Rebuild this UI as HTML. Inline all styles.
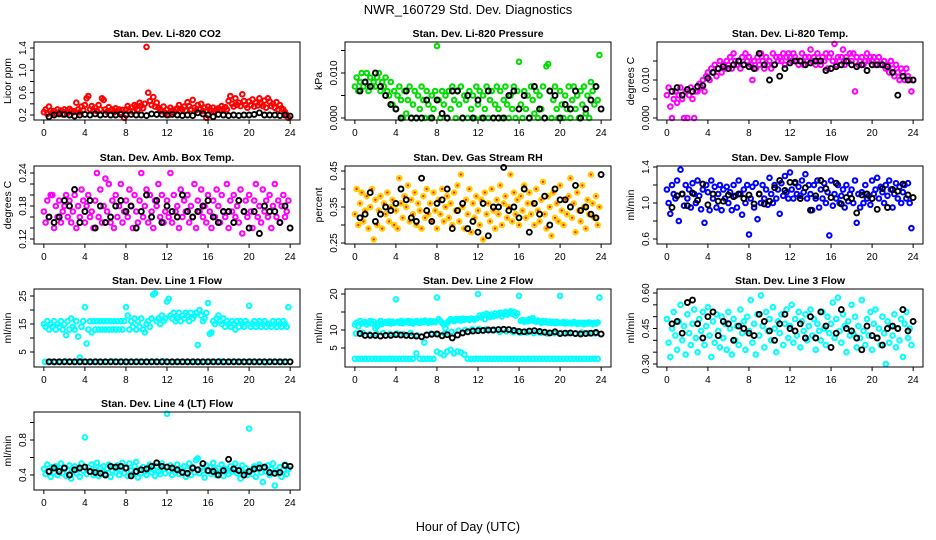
<!DOCTYPE html>
<html><head><meta charset="utf-8"><style>
html,body{margin:0;padding:0;background:#fff;}
svg{display:block;font-family:"Liberation Sans",Arial,sans-serif;}
</style></head><body>
<svg id="chart" width="936" height="540" viewBox="0 0 936 540" xmlns="http://www.w3.org/2000/svg">
<rect width="936" height="540" fill="#fff"/>
<text x="468" y="14" font-size="13" text-anchor="middle">NWR_160729  Std. Dev. Diagnostics</text>
<text x="468" y="531" font-size="12.5" text-anchor="middle">Hour of Day (UTC)</text>
</svg>
<script>
// ---- data (colored series sampled every 10 min from 0 h; black series every 30 min from 0.5 h) ----
const xTicks = [0,4,8,12,16,20,24];
const co2Red = [0.25,0.3,0.22,0.35,0.28,0.24, 0.27,0.22,0.3,0.25,0.28,0.21, 0.3,0.26,0.24,0.31,0.28,0.25, 0.27,0.42,0.3,0.25,0.35,0.29, 0.38,0.5,0.54,0.3,0.36,0.28, 0.33,0.27,0.38,0.3,0.5,0.47, 0.3,0.26,0.34,0.28,0.3,0.25, 0.32,0.27,0.3,0.24,0.29,0.15, 0.3,0.36,0.28,0.33,0.26,0.38, 0.35,0.3,0.42,0.37,0.32,0.4, 1.42,0.6,0.45,0.38,0.52,0.35, 0.42,0.33,0.3,0.27,0.35,0.24, 0.3,0.2,0.33,0.28,0.24,0.3, 0.32,0.38,0.27,0.3,0.35,0.28, 0.43,0.36,0.3,0.47,0.33,0.29, 0.38,0.3,0.4,0.27,0.33,0.15, 0.35,0.3,0.28,0.33,0.27,0.3, 0.32,0.29,0.36,0.31,0.34,0.3, 0.45,0.54,0.4,0.35,0.5,0.38, 0.42,0.36,0.57,0.45,0.38,0.33, 0.44,0.38,0.48,0.35,0.42,0.37, 0.5,0.4,0.36,0.46,0.33,0.5, 0.44,0.36,0.4,0.33,0.43,0.3, 0.38,0.32,0.3,0.25,0.2,0.15];
const co2Black = [0.17,0.2,0.22,0.21,0.2,0.18,0.2,0.21,0.2,0.22,0.2,0.21,0.2,0.2,0.21,0.2,0.21,0.2,0.2,0.19,0.22,0.21,0.21,0.2,0.21,0.2,0.19,0.2,0.19,0.24,0.22,0.2,0.17,0.21,0.2,0.19,0.2,0.19,0.2,0.2,0.21,0.24,0.2,0.2,0.2,0.19,0.2,0.18];
const pressureGreenPa = [7,9,6,8,10,7, 8,10,6,9,7,8, 7,9,10,6,8,7, 9,6,5,8,3,6, 2,5,7,4,0,6, 1,4,7,0,3,6, 0,5,2,7,4,0, 6,3,0,5,2,6, 16,4,0,6,3,5, 0,6,2,7,4,0, 6,3,7,0,5,4, 0,6,2,5,0,7, 3,6,0,5,2,7, 0,4,6,0,3,7, 2,6,0,4,7,3, 0,5,2,7,0,6, 12.5,3,0,6,2,5, 0,7,4,1,6,0, 5,2,7,0,11.5,12, 6,0,4,7,2,0, 6,3,0,5,2,7, 0,4,7,2,5,0, 6,3,7,1,5,0, 8,6,3,7,4,14];
const pressureBlackPa = [6,8,7,10,7,5,3,2,0,6,0,0,0,4,0,4,1,0,6,6,0,5,0,4,0,6,0,0,0,5,6,2,5,0,7,2,0,6,5,0,3,2,6,0,2,4,7,2];
const liTempMagentaMilli = [6,8,3,0,5,7, 4,6,8,5,0,7, 0,6,8,5,0,7, 7,9,8,10,7,11, 12,10,13,12,14,11, 13,15,12,14,13,15, 14,16,13,17,15,14, 15,13,16,14,17,15, 16,14,10,15,13,16, 14,17,15,13,16,14, 15,13,17,14,16,15, 16,15,17,14,16,17, 16,15,17,16,15,14, 15,17,14,16,15,16, 18,15,16,14,17,15, 14,16,15,17,13,16, 17,15,19.5,14,16,15, 16,18,14,16,15,17, 15,17,7,16,14,15, 16,14,15,17,15,16, 15,16,14,15,16,14, 14,15,13,14,12,15, 13,11,14,12,10,13, 12,10,13,11,10,7];
const liTempBlackMilli = [7,8,6,7.5,7,8.3,8.5,10.5,12,13,13.5,13,14,15,14,13.5,13,17,14,10,14,11,13,14.5,15,15,14,14.5,15,15,12.5,13,13.5,14,15,14,13.5,14,12.5,14,14,14,13.5,12,6,11,10,10];
const ambMagenta = [.17,.15,.19,.16,.2,.2,.14,.18,.16,.19,.15,.17,.18,.2,.16,.19,.15,.17,.2,.14,.18,.16,.21,.19, .15,.18,.2,.16,.17,.14,.19,.24,.16,.21,.15,.18,.23,.17,.22,.15,.19,.14,.2,.16,.18,.22,.15,.17, .19,.16,.21,.18,.14,.2,.17,.15,.19,.24,.16,.18,.21,.15,.2,.17,.14,.19,.18,.22,.16,.2,.15,.17, .19,.16,.24,.15,.2,.17,.18,.14,.21,.16,.19,.17,.2,.15,.18,.16,.22,.14,.19,.17,.21,.16,.18,.15, .2,.17,.14,.19,.16,.21,.18,.15,.2,.17,.16,.22,.14,.19,.17,.2,.16,.18,.15,.21,.13,.17,.19,.16, .2,.17,.14,.19,.22,.16,.18,.15,.21,.17,.19,.16,.2,.14,.18,.22,.16,.19,.15,.18,.2,.16,.17,.19];
const ambBlack = [.16,.15,.16,.19,.18,.21,.15,.17,.19,.14,.18,.15,.16,.18,.19,.17,.18,.14,.17,.2,.16,.19,.15,.18,.17,.16,.2,.17,.16,.17,.18,.19,.16,.15,.17,.17,.15,.19,.17,.14,.17,.13,.18,.17,.17,.15,.18,.14];
const rhOrange = [.33,.40,.30,.36,.39,.31, .34,.38,.29,.35,.40,.26, .37,.30,.34,.38,.29,.36, .33,.39,.31,.35,.37,.30, .34,.29,.43,.36,.32,.38, .35,.41,.31,.37,.33,.39, .30,.36,.34,.29,.38,.32, .40,.33,.36,.31,.39,.34, .29,.37,.33,.40,.31,.35, .38,.32,.36,.30,.39,.34, .41,.31,.44,.35,.29,.37, .33,.40,.28,.36,.32,.38, .34,.30,.37,.26,.39,.33, .36,.31,.40,.34,.29,.37, .33,.41,.30,.36,.38,.32, .35,.44,.31,.39,.33,.37, .30,.38,.34,.41,.32,.36, .39,.33,.36,.30,.40,.34, .31,.37,.42,.33,.29,.38, .35,.27,.39,.32,.36,.31, .41,.34,.30,.37,.33,.38, .43,.32,.36,.28,.39,.34, .31,.41,.35,.29,.37,.33, .44,.36,.32,.38,.30,.35];
const rhBlack = [.32,.33,.39,.31,.33,.35,.34,.36,.40,.37,.32,.31,.43,.34,.31,.36,.37,.40,.29,.34,.36,.29,.31,.28,.36,.27,.35,.35,.46,.34,.35,.32,.40,.28,.36,.33,.38,.30,.40,.37,.37,.35,.41,.34,.35,.33,.32,.44];
const sampleBlue = [1.15,1.0,0.88,1.2,1.1,1.05, 1.25,0.8,1.37,1.1,0.97,1.2, 1.05,1.15,0.95,1.22,1.1,1.0, 1.25,1.08,0.93,1.15,0.78,1.2, 1.12,0.92,1.25,1.05,1.18,0.95, 1.1,1.2,0.92,1.15,1.05,1.18, 1.0,1.12,0.92,1.2,1.08,0.95, 1.25,1.1,0.87,1.15,1.0,1.2, 0.65,1.05,1.18,0.95,1.22,0.82, 1.1,1.0,1.2,1.05,1.15,0.98, 1.28,1.1,1.0,1.2,1.05,1.15, 0.88,1.22,1.08,1.3,1.12,1.05, 1.34,1.15,1.05,1.22,1.1,1.18, 1.08,1.25,1.12,1.32,1.05,1.2, 1.1,0.92,1.2,1.05,1.25,0.95, 1.15,1.05,1.22,1.0,1.12,0.64, 1.25,0.97,1.1,1.05,1.2,1.0, 1.08,1.15,0.95,1.2,1.02,1.1, 1.15,1.0,1.25,0.78,1.1,0.95, 1.12,1.0,1.2,1.05,1.08,0.98, 1.25,1.1,1.15,1.28,1.05,1.18, 1.12,1.0,1.2,1.08,1.25,1.15, 0.95,1.1,1.22,1.05,1.18,1.0, 1.12,1.2,1.05,1.22,1.0,0.72];
const sampleBlack = [0.95,1.08,1.1,0.97,1.11,1.03,1.21,0.98,1.1,1.02,1.02,1.09,1.07,1.1,1.05,1.09,0.99,1.1,0.99,1.02,1.17,1.25,1.14,1.23,1.23,1.05,1.17,0.92,1.08,1.25,1.16,1.06,1.22,0.99,1.06,1.05,0.89,1.09,1.1,1.05,0.93,1.16,0.95,1.15,1.13,1.21,1.09,1.06];
const line1Cyan = [15,14,16,13,15,14, 16,13,15,14,16,13, 15,11,16,13,17,14, 13,16,10.5,3,14,16, 21,8,13,16,12,16, 13,16,13,16,13,16, 13,16,13,16,13,16, 13,16,13,16,13,16, 21,18,13,16,14,17, 13,16,14,17,13,12, 15,16,14,17,25.5,26, 16,17,15,18,16,17, 23,24,18,17,19,16, 17,19,16,18,17,19, 18,16,19,17,18,19, 7.5,20,18,16,17,19, 22.5,11.5,12,16,15,17, 18,16,15,17,14,16, 15,14,16,15,13,16, 14,16,15,14,16,15, 21.5,14,15,16,14,15, 16,14,15,16,14,15, 15,14,16,15,14,16, 15,14,16,15,14,21];
const line1CyanLow = [1.5,1.6,1.4,1.5,1.7,1.5,1.4,1.6,1.5,1.5,1.6,1.4,1.5,1.7,1.5,1.6,1.4,1.5,1.6,1.5,1.4,1.6,1.5,1.7,1.5,1.4,1.6,1.5,1.5,1.6,1.4,1.5,1.6,1.5,1.7,1.4,1.5,1.6,1.5,1.4,1.6,1.5,1.5,1.3,1.6,1.5,1.4,1.5];
const line1Black = [1.5,1.5,1.5,1.5,1.5,1.5,1.5,1.5,1.5,1.5,1.5,1.5,1.5,1.5,1.5,1.5,1.5,1.5,1.5,1.5,1.5,1.5,1.5,1.5,1.5,1.5,1.5,1.5,1.5,1.5,1.5,1.5,1.5,1.5,1.5,1.5,1.5,1.5,1.5,1.5,1.5,1.5,1.5,1.5,1.5,1.5,1.5,1.5];
const line2CyanUpper = [11.5,12,11,12.5,11.8,12, 12.2,11.5,12,12.5,11.8,12.3, 10.5,11,12,12.5,11.6,12, 12.2,12,12.4,11.8,12.3,12, 18.5,12.2,12,12.5,11.9,12.3, 12.2,12.5,12,12.4,11.8,12.2, 12.5,12.1,12,12.4,12.2,12.6, 12.3,12,12.5,12.2,12.4,12.2, 19,13,12.5,12,11.5,10.5, 12,12.5,13,12.8,12.5,13, 12.8,13,12.6,13.2,12.9,13, 13,12.8,13.2,13,12.9,13.1, 20,14,13.5,14.2,13,14.5, 14,13.6,14.3,13.8,14.6,14, 14.2,14.8,13.8,14.5,15,14.3, 14.8,15.2,14.5,15,14,14.6, 19.5,12.5,12.8,12.3,12.6,12.4, 13,12.6,13.3,12.5,12.3,12.6, 12.3,12,12.5,12.2,12.4,12, 12.3,12,12.2,11.9,12.3,12, 19.5,12,12.2,11.8,12.1,11.9, 12,11.8,12.2,12,11.7,12, 11.8,12,11.6,12,11.8,12.1, 11.9,11.7,12,11.8,12.1,19];
const line2CyanLower = [2,2,2,2,2,2,2,2,2,2,2,2,2,2,2,2,2,2,3.5,2,2,2,2,2, 4,3.5,3,4,4.5,3.5,4,3.8,3.2, 2,2,2,2,2,2,2,2,2,2,2,2,2,2,2,2,2,2,2,2,2,2,2,2,2,2,2,2,2,2,2,2,2,2,2,2,2,2,2];
const line2CyanMid = [9,9.2,8.8,9,9.1,8.9,9,8.8,9.2,8.5,6.5,9,8.8,9,9.5,9.8,10,10.2,10.3,10.1,9.9,9.5,9.6,9.4,9.2,9.3,9.1,9.2,9,9.1,9.2,9.1,9,9.3,9.1,9];
const line2Black = [9,8.5,8.5,8.5,8.3,8.5,8.5,8.7,8.6,8.5,8.4,8.3,8.1,8.6,8.8,8.9,8.4,8.7,7.8,8.6,9.2,9.5,9.7,9.8,9.9,10,10,10.1,10.2,10.1,9.9,9.6,9.5,9.7,9.8,9.6,9.4,9.2,9.5,9,9.1,9.2,9.0,8.9,9.0,9.1,9.3,8.9];
const line3Cyan = [.49,.39,.33,.45,.52,.42, .36,.48,.55,.40,.46,.34, .51,.43,.38,.47,.53,.41, .35,.49,.44,.52,.38,.46, .54,.42,.33,.48,.39,.51, .44,.37,.50,.41,.47,.36, .52,.45,.34,.49,.40,.46, .38,.53,.43,.48,.36,.50, .44,.57,.39,.47,.34,.51, .42,.59,.46,.37,.52,.44, .49,.40,.54,.45,.35,.48, .43,.51,.38,.47,.53,.41, .46,.55,.39,.49,.42,.52, .37,.48,.44,.51,.40,.46, .53,.42,.49,.36,.47,.44, .40,.52,.45,.38,.50,.43, .47,.56,.41,.49,.58,.44, .39,.51,.46,.35,.48,.42, .55,.43,.50,.37,.46,.41, .57,.44,.38,.49,.42,.52, .36,.47,.53,.41,.45,.38, .50,.43,.30,.48,.39,.46, .42,.51,.37,.45,.40,.49, .33,.47,.52,.41,.45,.38];
const line3Black = [.47,.48,.43,.56,.57,.47,.41,.50,.52,.42,.48,.47,.40,.46,.45,.43,.42,.51,.48,.44,.40,.47,.51,.45,.44,.47,.41,.50,.41,.52,.46,.37,.43,.53,.45,.44,.41,.36,.46,.42,.41,.38,.45,.46,.45,.53,.44,.48];
const line4Cyan = [.47,.41,.52,.44,.38,.49, .43,.50,.40,.46,.53,.42, .48,.39,.45,.51,.36,.44, .50,.42,.47,.38,.53,.45, .83,.41,.49,.44,.52,.40, .46,.54,.39,.48,.43,.50, .41,.47,.52,.38,.45,.49, .43,.51,.40,.46,.54,.42, .48,.39,.53,.45,.41,.50, .55,.37,.46,.42,.49,.44, .40,.48,.52,.43,.46,.39, .50,.44,.41,.53,.47,.42, 1.10,.45,.51,.40,.48,.43, .52,.41,.47,.44,.50,.38, .46,.53,.40,.49,.43,.57, .59,.42,.48,.45,.37,.51, .44,.49,.41,.54,.46,.40, .48,.43,.52,.39,.47,.45, .41,.50,.44,.47,.53,.42, .46,.36,.51,.43,.48,.40, .93,.45,.41,.50,.38,.47, .52,.43,.32,.48,.44,.51, .40,.47,.53,.28,.45,.42, .49,.38,.46,.52,.41,.47];
const line4Black = [.44,.48,.44,.48,.40,.46,.48,.49,.44,.43,.42,.40,.50,.49,.50,.48,.39,.44,.46,.47,.50,.54,.50,.49,.48,.46,.43,.42,.48,.46,.53,.45,.44,.40,.45,.58,.47,.45,.40,.44,.47,.48,.49,.43,.42,.43,.51,.50];

// ---- layout ----
const NS = "http://www.w3.org/2000/svg";
const svg = document.getElementById('chart');
const colX = [34, 345, 657], rowY = [42, 166, 289, 412], BW = 266, BH = 78;
const XMIN = -0.96, XMAX = 24.96;
function mk(tag, attrs, parent) {
  const e = document.createElementNS(NS, tag);
  for (const k in attrs) e.setAttribute(k, attrs[k]);
  (parent || svg).appendChild(e);
  return e;
}
const panels = [
  {id:'co2', title:'Stan. Dev. Li-820 CO2', ylab:'Licor ppm', c:0, r:0, ref:[0.2,115,1.4,48], ticks:[0.2,0.4,0.6,0.8,1.0,1.2,1.4], labels:[0.2,0.6,1.0,1.4], fmt:1,
   series:[{v:co2Red, s:1, color:'#ff0000', start:0, step:1/6},{v:co2Black, s:1, color:'#000', start:0.5, step:0.5}]},
  {id:'pressure', title:'Stan. Dev. Li-820 Pressure', ylab:'kPa', c:1, r:0, ref:[0,118,0.01,73], ticks:[0,0.005,0.01,0.015], labels:[0,0.01], fmt:3,
   series:[{v:pressureGreenPa, s:0.001, color:'#00dd00', start:0, step:1/6},{v:pressureBlackPa, s:0.001, color:'#000', start:0.5, step:0.5}]},
  {id:'li-temp', title:'Stan. Dev. Li-820 Temp.', ylab:'degrees C', c:2, r:0, ref:[0,118,0.01,80], ticks:[0,0.005,0.01,0.015], labels:[0,0.01], fmt:3,
   series:[{v:liTempMagentaMilli, s:0.001, color:'#ff00ff', start:0, step:1/6},{v:liTempBlackMilli, s:0.001, color:'#000', start:0.5, step:0.5}]},
  {id:'amb-temp', title:'Stan. Dev. Amb. Box Temp.', ylab:'degrees C', c:0, r:1, ref:[0.12,239,0.24,173], ticks:[0.12,0.14,0.16,0.18,0.2,0.22,0.24], labels:[0.12,0.18,0.24], fmt:2,
   series:[{v:ambMagenta, s:1, color:'#ff00ff', start:0, step:1/6},{v:ambBlack, s:1, color:'#000', start:0.5, step:0.5}]},
  {id:'rh', title:'Stan. Dev. Gas Stream RH', ylab:'percent', c:1, r:1, ref:[0.25,243,0.45,171], ticks:[0.25,0.3,0.35,0.4,0.45], labels:[0.25,0.35,0.45], fmt:2,
   series:[{v:rhOrange, s:1, color:'#ffd000', dot:'#ff2000', start:0, step:1/6},{v:rhBlack, s:1, color:'#000', start:0.5, step:0.5}]},
  {id:'sample-flow', title:'Stan. Dev. Sample Flow', ylab:'ml/min', c:2, r:1, ref:[0.6,239,1.4,167], ticks:[0.6,0.8,1.0,1.2,1.4], labels:[0.6,1.0,1.4], fmt:1,
   series:[{v:sampleBlue, s:1, color:'#0000ff', start:0, step:1/6},{v:sampleBlack, s:1, color:'#000', start:0.5, step:0.5}]},
  {id:'line1', title:'Stan. Dev. Line 1 Flow', ylab:'ml/min', c:0, r:2, ref:[5,352,25,296], ticks:[5,10,15,20,25], labels:[5,15,25], fmt:0,
   series:[{v:line1Cyan, s:1, color:'#00ffff', start:0, step:1/6},{v:line1CyanLow, s:1, color:'#00ffff', start:0.1, step:0.5},{v:line1Black, s:1, color:'#000', start:0.5, step:0.5}]},
  {id:'line2', title:'Stan. Dev. Line 2 Flow', ylab:'ml/min', c:1, r:2, ref:[5,348,20,294], ticks:[5,10,15,20], labels:[5,10,20], fmt:0,
   series:[{v:line2CyanUpper, s:1, color:'#00ffff', start:0, step:1/6},{v:line2CyanLower, s:1, color:'#00ffff', start:0, step:1/3},{v:line2CyanMid, s:1, color:'#00ffff', start:0.1, step:2/3},{v:line2Black, s:1, color:'#000', start:0.5, step:0.5}]},
  {id:'line3', title:'Stan. Dev. Line 3 Flow', ylab:'ml/min', c:2, r:2, ref:[0.3,364,0.6,293], ticks:[0.3,0.35,0.4,0.45,0.5,0.55,0.6], labels:[0.3,0.45,0.6], fmt:2,
   series:[{v:line3Cyan, s:1, color:'#00ffff', start:0, step:1/6},{v:line3Black, s:1, color:'#000', start:0.5, step:0.5}]},
  {id:'line4', title:'Stan. Dev. Line 4 (LT) Flow', ylab:'ml/min', c:0, r:3, ref:[0.4,475,0.8,440], ticks:[0.4,0.6,0.8,1.0], labels:[0.4,0.8], fmt:1,
   series:[{v:line4Cyan, s:1, color:'#00ffff', start:0, step:1/6},{v:line4Black, s:1, color:'#000', start:0.5, step:0.5}]}
];

panels.forEach(p => {
  const bx = colX[p.c], by = rowY[p.r];
  const xs = h => bx + (h - XMIN) / (XMAX - XMIN) * BW;
  const ys = v => p.ref[1] + (v - p.ref[0]) / (p.ref[2] - p.ref[0]) * (p.ref[3] - p.ref[1]);
  const g = mk('g', {});
  
  
  const t = mk('text', {x: bx + BW/2, y: by - 5, 'font-size': 10.5, 'font-weight': 'bold', 'text-anchor': 'middle'}, g);
  t.textContent = p.title;
  
  
  const pg = mk('g', {fill: 'none'}, g);
  
  
  p.series.forEach((s) => {
    const black = s.color === '#000';
    s.v.forEach((val, i) => {
      const cx = xs(s.start + i * s.step), cy = ys(val * s.s);
      const c = mk('circle', {cx: cx.toFixed(1), cy: cy.toFixed(1), r: black ? 2.5 : 2.3, stroke: s.color, 'stroke-width': black ? 1.9 : 2.0}, pg);
      
      
      if (s.dot) {
        const d = mk('circle', {cx: cx.toFixed(1), cy: cy.toFixed(1), r: 1.2, fill: s.dot}, pg);
        
        
      }
    });
  });
  const b = mk('rect', {x: bx, y: by, width: BW, height: BH, fill: 'none', stroke: '#000', 'stroke-width': 1}, g);
  
  
  const xa = mk('g', {stroke: '#000', 'stroke-width': 1}, g);
  
  
  mk('line', {x1: xs(0), x2: xs(24), y1: by + BH, y2: by + BH}, xa);
  xTicks.forEach(h => {
    mk('line', {x1: xs(h), x2: xs(h), y1: by + BH, y2: by + BH + 4}, xa);
    const tl = mk('text', {x: xs(h), y: by + BH + 16, 'font-size': 10, 'text-anchor': 'middle', stroke: 'none', fill: '#000'}, xa);
    tl.textContent = h;
    
    
  });
  const ya = mk('g', {stroke: '#000', 'stroke-width': 1}, g);
  
  
  mk('line', {x1: bx, x2: bx, y1: ys(p.ticks[0]), y2: ys(p.ticks[p.ticks.length-1])}, ya);
  p.ticks.forEach(v => mk('line', {x1: bx - 4, x2: bx, y1: ys(v), y2: ys(v)}, ya));
  p.labels.forEach(v => {
    const yy = ys(v);
    const tl = mk('text', {x: bx - 8, y: yy, 'font-size': 10, 'text-anchor': 'middle', stroke: 'none', fill: '#000', transform: `rotate(-90 ${bx - 8} ${yy})`}, ya);
    tl.textContent = v.toFixed(p.fmt);
    
    
  });
  const yl = mk('text', {x: bx - 23, y: by + BH/2, 'font-size': 10.5, 'text-anchor': 'middle', transform: `rotate(-90 ${bx - 23} ${by + BH/2})`}, g);
  yl.textContent = p.ylab;
  
  
});
</script>
</body></html>
